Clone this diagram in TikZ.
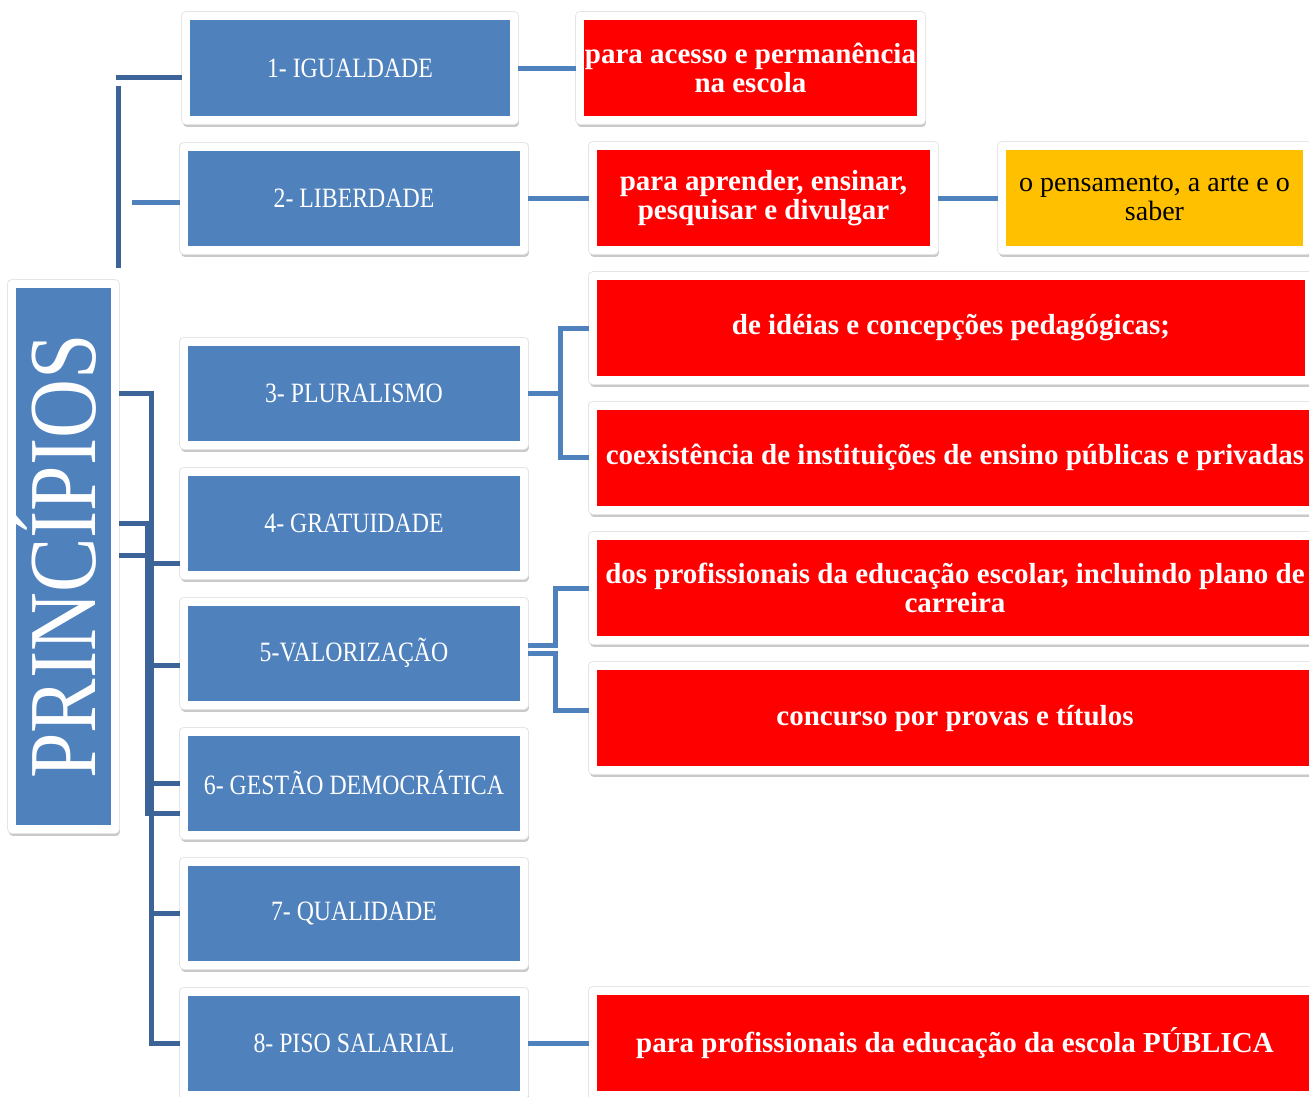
\documentclass[tikz,border=0pt]{standalone}
\usepackage{fontspec}
\setmainfont{Liberation Serif}
\newfontfamily\narrowfont[FakeStretch=0.85]{Liberation Serif}
\usepackage{tikz}
\usetikzlibrary{positioning,shadows}
\definecolor{boxblue}{RGB}{79,129,189}
\definecolor{linkblue}{RGB}{60,100,152}
\definecolor{aimred}{RGB}{255,0,0}
\definecolor{aimgold}{RGB}{255,192,0}

\begin{document}
\begin{tikzpicture}[x=1pt, y=-1pt,
			framed/.style={rectangle, draw=white, line width=8pt, line join=round, inner sep=0, align=center,
				drop shadow={shadow xshift=1pt, shadow yshift=-3pt, opacity=0.3, fill=black!70, draw=black!70, line width=8pt},
				preaction={draw=black!10, line width=10pt, line join=round}},
			principle/.style={framed, fill=boxblue, text=white, minimum width=340, minimum height=103,
				font=\narrowfont\fontsize{28}{29}\selectfont},
			aim/.style={framed, fill=aimred, text=white, minimum width=341, minimum height=104,
				font=\fontsize{29}{29}\selectfont\bfseries},
			link/.style={draw=linkblue, line width=5pt}]
			
			\useasboundingbox (0,0) rectangle (1309,1096);
			
			\node[principle, rotate=90, minimum width=545, text height=64pt, text depth=0pt,
				font=\narrowfont\fontsize{96}{96}\selectfont] (prin) at (63.5,556.5) {PRINCÍPIOS};
			
			\node[principle, minimum width=328, minimum height=104] (igual) at (350,68) {1- IGUALDADE};
			\node[principle] (liber) at (354,198) {2- LIBERDADE};
			\node[principle] (plural) at (354,393) {3- PLURALISMO};
			\node[principle, below=19pt of plural] (gratu) {4- GRATUIDADE};
			\node[principle, below=19pt of gratu] (valor) {5-VALORIZAÇÃO};
			\node[principle, below=19pt of valor] (gestao) {6- GESTÃO DEMOCRÁTICA};
			\node[principle, below=19pt of gestao] (quali) {7- QUALIDADE};
			\node[principle, below=19pt of quali] (piso) {8- PISO SALARIAL};
			
			\node[aim] (r1) at (750.5,68) {para acesso e permanência\\na escola};
			\node[aim] (r2) at (763.5,198) {para aprender, ensinar,\\pesquisar e divulgar};
			\node[aim, fill=aimgold, text=black, font=\fontsize{28}{29}\selectfont, minimum width=305] (gold) at (1154.5,198) {o pensamento, a arte e o\\saber};
			\node[aim, minimum width=716] (r3) at (951,328) {de idéias e concepções pedagógicas;};
			\node[aim, minimum width=724] (r4) at (955,457.5) {coexistência de instituições de ensino públicas e privadas};
			\node[aim, minimum width=724] (r5) at (955,588) {dos profissionais da educação escolar, incluindo plano de\\carreira};
			\node[aim, minimum width=724] (r6) at (955,718) {concurso por provas e títulos};
			\node[aim, minimum width=724] (r8) at (955,1043) {para profissionais da educação da escola PÚBLICA};
			
			\coordinate (top) at (116,77);
			\coordinate (stem) at (118,86);
			\coordinate (foot) at (118,268);
			\coordinate (stub) at (132,202);
			\draw[link] (top) -- (top -| igual.west);
			\draw[link] (stem) -- (foot);
			\draw[link, draw=boxblue] (stub) -- (stub -| liber.west);
			
			\draw[link] (prin.south |- plural.west) -| ([xshift=-29pt]piso.west) -- (piso.west);
			\draw[link] (prin.south |- gratu.west) -| ([xshift=-33pt, yshift=-30pt]gestao.west) -- ([yshift=-30pt]gestao.west);
			\draw[link] (prin.south |- 0,555) -- (147,555);
			\draw[link] (gratu.west |- 0,563) -- ++(-29,0);
			\draw[link] (valor.west |- 0,665) -- ++(-29,0);
			\draw[link] (gestao.west) -- ++(-29,0);
			\draw[link] (quali.west) -- ++(-29,0);
			
			\draw[link, draw=boxblue] (igual.east) -- (r1.west);
			\draw[link, draw=boxblue] (liber.east) -- (r2.west);
			\draw[link, draw=boxblue] (r2.east) -- (gold.west);
			\draw[link, draw=boxblue] (plural.east) -- ++(32,0) coordinate (fork);
			\draw[link, draw=boxblue] (r3.west) -| (fork) |- (r4.west);
			\draw[link, draw=boxblue] ([yshift=8pt]valor.east) -- ++(27,0) |- (r5.west);
			\draw[link, draw=boxblue] (valor.east) -- ++(27,0) |- ([yshift=8pt]r6.west);
			\draw[link, draw=boxblue] (piso.east) -- (r8.west);
		\end{tikzpicture}
\end{document}
